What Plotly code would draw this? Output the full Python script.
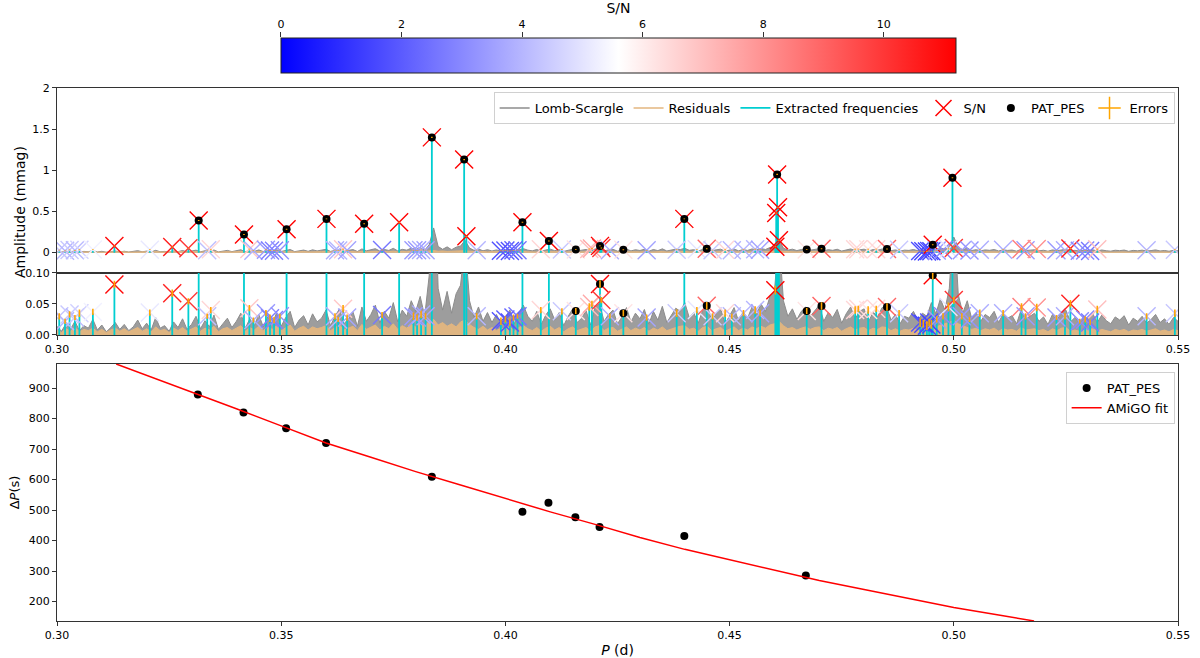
import plotly.graph_objects as go

# ---------------- data ----------------
# Lomb-Scargle periodogram and residual amplitudes, in 1e-3 mmag, sampled every 0.001 d from 0.300 d
ls_start = 0.300
ls_step = 0.001
ls_amp_milli = [
    14, 6, 18, 9, 22, 7, 15, 11, 25, 8,
    16, 5, 12, 20, 9, 17, 7, 13, 24, 10,
    19, 8, 28, 11, 15, 6, 21, 12, 26, 9,
    17, 30, 10, 23, 13, 32, 9, 19, 27, 12,
    22, 35, 11, 26, 15, 33, 13, 29, 18, 36,
    14, 28, 38, 12, 24, 31, 16, 34, 21, 27,
    40, 15, 30, 42, 18, 26, 37, 14, 45, 22,
    33, 48, 19, 38, 27, 52, 21, 40, 30, 55,
    38, 62, 30, 95, 300, 75, 40, 70, 35, 66,
    80, 150, 55, 28, 45, 22, 36, 20, 33, 18,
    28, 40, 18, 35, 48, 30, 22, 38, 17, 32,
    42, 24, 36, 15, 30, 42, 20, 27, 39, 16,
    45, 50, 22, 33, 40, 18, 29, 44, 21, 35,
    26, 41, 17, 38, 24, 46, 20, 31, 43, 38,
    52, 28, 36, 19, 40, 48, 23, 34, 42, 18,
    30, 44, 22, 37, 27, 45, 33, 50, 38, 62,
    70, 160, 55, 30, 42, 25, 38, 45, 30, 40,
    48, 22, 36, 28, 41, 19, 34, 45, 26, 38,
    42, 21, 37, 29, 44, 46, 24, 33, 18, 30,
    27, 38, 23, 35, 30, 52, 34, 58, 40, 75,
    190, 65, 35, 55, 26, 36, 22, 33, 28, 38,
    20, 34, 27, 31, 18, 40, 25, 30, 35, 22,
    29, 17, 33, 24, 36, 40, 21, 28, 19, 30,
    26, 34, 20, 32, 23, 18, 29, 24, 31, 16,
    27, 22, 30, 19, 25, 33, 20, 26, 17, 28,
    22,
]
res_amp_milli = [
    8, 4, 10, 6, 12, 5, 9, 7, 11, 5,
    9, 4, 8, 11, 6, 10, 5, 8, 12, 6,
    10, 5, 13, 7, 9, 4, 11, 7, 12, 6,
    9, 13, 6, 11, 8, 14, 5, 10, 12, 7,
    11, 15, 6, 12, 8, 14, 7, 13, 9, 15,
    7, 12, 16, 6, 11, 14, 8, 13, 10, 12,
    15, 7, 12, 16, 8, 11, 14, 7, 17, 9,
    12, 16, 8, 14, 10, 18, 9, 15, 11, 17,
    13, 19, 14, 22, 25, 16, 20, 14, 18, 13,
    21, 24, 17, 12, 9, 14, 8, 12, 7, 11,
    9, 13, 6, 12, 15, 10, 7, 12, 6, 11,
    14, 8, 12, 5, 10, 13, 7, 9, 12, 6,
    13, 15, 7, 11, 12, 6, 9, 13, 7, 11,
    8, 12, 6, 11, 8, 13, 7, 10, 12, 14,
    15, 9, 11, 6, 12, 14, 7, 10, 12, 6,
    9, 13, 7, 11, 8, 13, 10, 14, 11, 16,
    18, 22, 15, 10, 12, 8, 11, 13, 9, 12,
    13, 7, 11, 9, 12, 6, 10, 13, 8, 11,
    12, 7, 11, 9, 13, 12, 7, 10, 6, 9,
    8, 11, 7, 10, 13, 15, 12, 16, 18, 20,
    24, 18, 15, 12, 9, 11, 7, 10, 8, 11,
    6, 10, 8, 9, 6, 12, 8, 9, 10, 7,
    9, 5, 10, 7, 11, 12, 6, 8, 6, 9,
    8, 10, 6, 9, 7, 5, 9, 7, 9, 5,
    8, 7, 9, 6, 8, 10, 6, 8, 5, 9,
    7,
]

# Extracted frequencies (periods in d), amplitudes (mmag), S/N and amplitude errors
ext_period = [
    0.3005, 0.3018, 0.3028, 0.3040, 0.3050, 0.3080, 0.3128, 0.3207,
    0.3257, 0.3293, 0.3316, 0.3335, 0.3343, 0.3417, 0.3429, 0.3438,
    0.3466, 0.3475, 0.3484, 0.3497, 0.3512, 0.3601, 0.3620, 0.3627,
    0.3638, 0.3647, 0.3685, 0.3725, 0.3763, 0.3795, 0.3803, 0.3812,
    0.3822, 0.3836, 0.3908, 0.3913, 0.3936, 0.3990, 0.4000, 0.4010,
    0.4018, 0.4027, 0.4038, 0.4079, 0.4097, 0.4126, 0.4157, 0.4187,
    0.4193, 0.4211, 0.4214, 0.4233, 0.4263, 0.4315, 0.4382, 0.4399,
    0.4427, 0.4449, 0.4462, 0.4490, 0.4505, 0.4531, 0.4557, 0.4568,
    0.4602, 0.4604, 0.4606, 0.4608, 0.4610, 0.4672, 0.4705, 0.4780,
    0.4787, 0.4809, 0.4827, 0.4851, 0.4878, 0.4925, 0.4932, 0.4940,
    0.4945, 0.4950, 0.4953, 0.4962, 0.4976, 0.4988, 0.4997, 0.5000,
    0.5018, 0.5035, 0.5058, 0.5110, 0.5151, 0.5160, 0.5185, 0.5229,
    0.5248, 0.5260, 0.5281, 0.5293, 0.5304, 0.5320, 0.5430, 0.5493,
]
ext_amp = [
    0.030, 0.022, 0.033, 0.028, 0.035, 0.037, 0.081, 0.036,
    0.067, 0.054, 0.390, 0.030, 0.040, 0.220, 0.043, 0.024,
    0.035, 0.027, 0.024, 0.030, 0.285, 0.410, 0.030, 0.025,
    0.042, 0.028, 0.350, 0.032, 0.370, 0.030, 0.028, 0.033,
    0.030, 1.400, 1.130, 0.200, 0.030, 0.022, 0.025, 0.020,
    0.028, 0.030, 0.370, 0.040, 0.140, 0.038, 0.0385, 0.045,
    0.050, 0.082, 0.056, 0.030, 0.035, 0.028, 0.035, 0.410,
    0.040, 0.047, 0.030, 0.035, 0.030, 0.035, 0.040, 0.035,
    0.072, 0.480, 0.950, 0.550, 0.150, 0.0385, 0.0465, 0.040,
    0.042, 0.040, 0.042, 0.045, 0.035, 0.020, 0.018, 0.015,
    0.020, 0.017, 0.096, 0.025, 0.030, 0.045, 0.910, 0.056,
    0.030, 0.025, 0.035, 0.035, 0.045, 0.030, 0.044, 0.028,
    0.030, 0.050, 0.022, 0.025, 0.020, 0.041, 0.030, 0.035,
]
ext_sn = [
    4.3, 4.0, 4.4, 4.1, 4.6, 5.3, 11.0, 5.1,
    10.5, 10.0, 11.2, 4.2, 6.5, 11.2, 6.8, 3.8,
    3.4, 2.8, 2.8, 3.2, 11.2, 11.2, 3.8, 4.0,
    6.8, 3.6, 11.2, 2.6, 11.2, 3.4, 3.4, 3.8,
    3.6, 11.2, 11.2, 11.2, 4.0, 1.8, 2.0, 1.8,
    2.2, 2.6, 11.2, 6.5, 11.2, 4.4, 6.2, 7.0,
    7.5, 11.2, 10.0, 3.8, 6.2, 3.6, 4.4, 11.2,
    5.0, 9.0, 4.4, 6.5, 4.0, 4.0, 4.0, 3.6,
    11.2, 11.2, 11.2, 11.2, 11.2, 6.2, 9.0, 6.5,
    6.5, 6.2, 6.5, 9.0, 4.4, 1.8, 1.5, 1.4,
    1.8, 1.5, 11.2, 3.4, 3.0, 5.0, 11.2, 10.0,
    3.4, 3.2, 3.8, 3.8, 8.5, 3.4, 8.0, 3.4,
    3.8, 10.5, 3.0, 3.0, 2.6, 7.0, 4.0, 4.4,
]
ext_err = [
    0.005, 0.004, 0.005, 0.004, 0.006, 0.005, 0.006, 0.005,
    0.006, 0.005, 0.006, 0.004, 0.005, 0.006, 0.005, 0.004,
    0.005, 0.006, 0.005, 0.004, 0.006, 0.006, 0.005, 0.004,
    0.006, 0.005, 0.006, 0.005, 0.006, 0.006, 0.005, 0.006,
    0.005, 0.007, 0.007, 0.006, 0.005, 0.006, 0.005, 0.006,
    0.005, 0.004, 0.006, 0.005, 0.006, 0.005, 0.005, 0.006,
    0.005, 0.006, 0.005, 0.004, 0.005, 0.005, 0.006, 0.006,
    0.005, 0.006, 0.005, 0.006, 0.004, 0.005, 0.006, 0.005,
    0.007, 0.006, 0.007, 0.006, 0.006, 0.005, 0.006, 0.006,
    0.005, 0.006, 0.005, 0.006, 0.005, 0.007, 0.006, 0.007,
    0.006, 0.007, 0.007, 0.005, 0.005, 0.007, 0.007, 0.006,
    0.005, 0.004, 0.006, 0.005, 0.006, 0.005, 0.006, 0.004,
    0.005, 0.006, 0.004, 0.005, 0.004, 0.006, 0.005, 0.006,
]

# PAT_PES selected modes in the periodogram
pat_period = [0.3316, 0.3417, 0.3512, 0.3601, 0.3685, 0.3836, 0.3908, 0.4038, 0.4097, 0.4157,
              0.4211, 0.4263, 0.4399, 0.4449, 0.4606, 0.4672, 0.4705, 0.4851, 0.4953, 0.4997]
pat_amp = [0.390, 0.220, 0.285, 0.410, 0.350, 1.400, 1.130, 0.370, 0.140, 0.0385,
           0.082, 0.035, 0.410, 0.047, 0.950, 0.0385, 0.0465, 0.045, 0.096, 0.910]

# Period-spacing pattern
pes_period = [0.3314, 0.3416, 0.3511, 0.3600, 0.3836, 0.4038, 0.4096, 0.4156, 0.4210, 0.4399, 0.4670]
pes_dp = [879, 820, 768, 720, 609, 494, 524, 476, 444, 415, 285]

# AMiGO fit
fit_period = [0.3132, 0.32, 0.33, 0.34, 0.35, 0.36, 0.37, 0.38, 0.39, 0.40, 0.41,
              0.42, 0.43, 0.44, 0.45, 0.46, 0.47, 0.48, 0.49, 0.50, 0.51, 0.5179]
fit_dp = [979, 942, 887, 832, 776, 720, 673, 626, 582, 538, 494,
          453, 410, 371, 337, 302, 269, 239, 210, 180, 156, 136]

sn_ticks = [0, 2, 4, 6, 8, 10]
sn_max = 11.2
period_ticks = [0.30, 0.35, 0.40, 0.45, 0.50, 0.55]

# ---------------- figure ----------------
ls_amp = [v / 1000 for v in ls_amp_milli]
res_amp = [v / 1000 for v in res_amp_milli]
ls_period = [round(ls_start + i * ls_step, 4) for i in range(len(ls_amp))]

stem_x, stem_y = [], []
for p, a in zip(ext_period, ext_amp):
    stem_x += [p, p, None]
    stem_y += [0, a, None]

BWR = [[0.0, 'rgb(0,0,255)'], [0.5, 'rgb(255,255,255)'], [1.0, 'rgb(255,0,0)']]
FONT = 'DejaVu Sans'
C_LS, C_RES, C_EXT, C_ERR = '#8c8c8c', '#e3b67f', '#00ced1', '#ffa500'
fig = go.Figure()
panels = [('x', 'y'), ('x2', 'y2')]

# legend entries (top panel)
fig.add_trace(go.Scatter(x=[None], y=[None], mode='lines', name='Lomb-Scargle',
                         line=dict(color=C_LS, width=1.5), legend='legend'))
fig.add_trace(go.Scatter(x=[None], y=[None], mode='lines', name='Residuals',
                         line=dict(color=C_RES, width=1.5), legend='legend'))
fig.add_trace(go.Scatter(x=[None], y=[None], mode='lines', name='Extracted frequencies',
                         line=dict(color=C_EXT, width=1.8), legend='legend'))
fig.add_trace(go.Scatter(x=[None], y=[None], mode='markers', name='S/N',
                         marker=dict(symbol='x-thin', size=16, color='red',
                                     line=dict(width=1.5, color='red')), legend='legend'))
fig.add_trace(go.Scatter(x=[None], y=[None], mode='markers', name='PAT_PES',
                         marker=dict(color='black', size=8), legend='legend'))
fig.add_trace(go.Scatter(x=[None], y=[None], mode='markers', name='Errors',
                         marker=dict(symbol='cross-thin', size=16, color=C_ERR,
                                     line=dict(width=1.5, color=C_ERR)), legend='legend'))

for xa, ya in panels:
    fig.add_trace(go.Scatter(x=ls_period, y=ls_amp, mode='lines', name='Lomb-Scargle',
                             line=dict(color=C_LS, width=1), fill='tozeroy',
                             fillcolor='rgba(140,140,140,0.85)', xaxis=xa, yaxis=ya,
                             showlegend=False))
for xa, ya in panels:
    fig.add_trace(go.Scatter(x=ls_period, y=res_amp, mode='lines', name='Residuals',
                             line=dict(color=C_RES, width=1), fill='tozeroy',
                             fillcolor='rgba(227,182,127,0.95)', xaxis=xa, yaxis=ya,
                             showlegend=False))
for xa, ya in panels:
    fig.add_trace(go.Scatter(x=stem_x, y=stem_y, mode='lines', name='Extracted frequencies',
                             line=dict(color=C_EXT, width=1.8), xaxis=xa, yaxis=ya,
                             showlegend=False))
for i, (xa, ya) in enumerate(panels):
    marker = dict(symbol='x-thin', size=18, color=ext_sn, colorscale=BWR, cmin=0, cmax=sn_max,
                  line=dict(width=1.4, color=ext_sn, colorscale=BWR, cmin=0, cmax=sn_max),
                  showscale=(i == 0))
    if i == 0:
        marker['colorbar'] = dict(orientation='h', x=0.5009, xanchor='center', y=0.918,
                                  yanchor='middle', len=0.602, lenmode='fraction', thickness=35,
                                  xpad=0, ypad=0, outlinewidth=1, outlinecolor='#222',
                                  ticks='', showticklabels=False)
    fig.add_trace(go.Scatter(x=ext_period, y=ext_amp, mode='markers', name='S/N', marker=marker,
                             xaxis=xa, yaxis=ya, showlegend=False))
for xa, ya in panels:
    fig.add_trace(go.Scatter(x=pat_period, y=pat_amp, mode='markers', name='PAT_PES',
                             marker=dict(color='black', size=8), xaxis=xa, yaxis=ya,
                             showlegend=False))
for xa, ya in panels:
    fig.add_trace(go.Scatter(x=ext_period, y=ext_amp, mode='markers', name='Errors',
                             marker=dict(size=1, color='rgba(0,0,0,0)'),
                             error_y=dict(type='data', array=ext_err, color=C_ERR,
                                          thickness=1.6, width=0),
                             xaxis=xa, yaxis=ya, showlegend=False))

# bottom panel
fig.add_trace(go.Scatter(x=pes_period, y=pes_dp, mode='markers', name='PAT_PES',
                         marker=dict(color='black', size=8), xaxis='x3', yaxis='y3',
                         legend='legend2'))
fig.add_trace(go.Scatter(x=fit_period, y=fit_dp, mode='lines', name='AMiGO fit',
                         line=dict(color='red', width=1.5), xaxis='x3', yaxis='y3',
                         legend='legend2'))
# colour-bar axis holder
fig.add_trace(go.Scatter(x=[], y=[], xaxis='x4', yaxis='y4', showlegend=False))

ax = dict(showline=True, linecolor='#333', linewidth=1.3, mirror=True, ticks='outside', ticklen=4,
          tickwidth=1, tickcolor='#333', showgrid=False, zeroline=False,
          tickfont=dict(size=11, color='black'), automargin=False)

fig.update_layout(
    width=1200, height=658,
    margin=dict(l=57, r=22, t=5, b=37),
    paper_bgcolor='white', plot_bgcolor='white',
    font=dict(family=FONT, color='black'),
    xaxis=dict(ax, domain=[0, 1], range=[0.30, 0.55], anchor='y', showticklabels=False, ticks=''),
    yaxis=dict(ax, domain=[0.5654, 0.8653], range=[-0.244, 2.0], anchor='x',
               tickvals=[0, 0.5, 1, 1.5, 2], ticktext=['0', '0.5', '1', '1.5', '2']),
    xaxis2=dict(ax, domain=[0, 1], range=[0.30, 0.55], anchor='y2', tickvals=period_ticks,
                tickformat='.2f'),
    yaxis2=dict(ax, domain=[0.4643, 0.5654], range=[0, 0.1], anchor='x2',
                tickvals=[0, 0.05, 0.1], tickformat='.2f'),
    xaxis3=dict(ax, domain=[0, 1], range=[0.30, 0.55], anchor='y3', tickvals=period_ticks,
                tickformat='.2f',
                title=dict(text='<i>P</i> (d)', font=dict(size=14), standoff=4)),
    yaxis3=dict(ax, domain=[0, 0.4172], range=[136, 979], anchor='x3',
                tickvals=[200, 300, 400, 500, 600, 700, 800, 900],
                title=dict(text='Δ<i>P</i>(s)', font=dict(size=13), standoff=6)),
    xaxis4=dict(domain=[0.1998, 0.802], range=[0, sn_max], anchor='y4', side='top',
                tickvals=sn_ticks, ticks='outside', ticklen=5, tickcolor='#333',
                showline=False, showgrid=False, zeroline=False,
                tickfont=dict(size=11, color='black'),
                title=dict(text='S/N', font=dict(size=14), standoff=4)),
    yaxis4=dict(domain=[0.8896, 0.9464], range=[0, 1], anchor='x4', visible=False),
    legend=dict(orientation='h', x=0.997, xanchor='right', y=0.8588, yanchor='top',
                bgcolor='rgba(255,255,255,0.85)', bordercolor='#d0d0d0', borderwidth=1,
                font=dict(size=13), itemwidth=30),
    legend2=dict(orientation='v', x=0.997, xanchor='right', y=0.4042, yanchor='top',
                 bgcolor='rgba(255,255,255,0.85)', bordercolor='#d0d0d0', borderwidth=1,
                 font=dict(size=13), itemwidth=30),
    annotations=[dict(text='Amplitude (mmag)', x=-0.033, y=0.664, xref='paper', yref='paper',
                      textangle=-90, showarrow=False, font=dict(size=14),
                      xanchor='center', yanchor='middle')],
)

fig.write_html('out.html', config={'displayModeBar': False},
               post_script="document.body.style.margin='0';document.body.style.overflow='hidden';")
